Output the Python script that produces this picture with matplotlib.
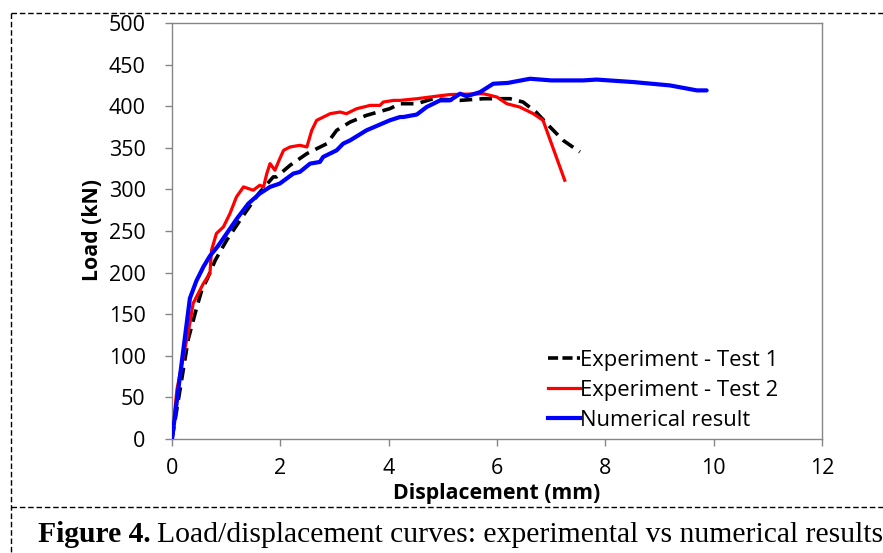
import matplotlib
matplotlib.use("Agg")
import matplotlib.pyplot as plt
from matplotlib.lines import Line2D

# ---- data ----
num_x = [0, 0.33, 0.45, 0.58, 0.70, 0.85, 1.01, 1.20, 1.41, 1.62, 1.81, 1.99, 2.24, 2.36,
         2.55, 2.73, 2.79, 3.04, 3.16, 3.29, 3.59, 4.02, 4.21, 4.27, 4.52, 4.70, 4.95,
         5.13, 5.32, 5.44, 5.69, 5.93, 6.20, 6.61, 7.00, 7.59, 7.84, 8.52, 9.19, 9.69, 9.87]
num_y = [0, 169, 190, 207, 220, 232, 247, 265, 283, 295, 303, 307, 319, 321,
         331, 333, 339, 347, 355, 359, 371, 383, 387, 387, 390, 399, 407,
         407, 415, 412, 417, 427, 428, 433, 431, 431, 432, 429, 425, 419, 419]

t2_x = [0, 0.09, 0.33, 0.39, 0.58, 0.70, 0.73, 0.82, 0.95, 1.07, 1.19, 1.32, 1.50, 1.62,
        1.69, 1.75, 1.81, 1.90, 1.99, 2.06, 2.18, 2.36, 2.49, 2.58, 2.67, 2.92, 3.10,
        3.22, 3.41, 3.66, 3.84, 3.90, 4.09, 4.21, 4.52, 4.88, 5.13, 5.75, 6.00, 6.18,
        6.42, 6.67, 6.85, 7.25]
t2_y = [0, 59, 139, 163, 187, 199, 227, 247, 255, 271, 291, 303, 299, 305,
        303, 319, 331, 323, 337, 347, 351, 353, 351, 371, 383, 391, 393,
        391, 397, 401, 401, 405, 407, 407, 409, 412, 414, 415, 411, 403,
        399, 391, 383, 311]

t1_x = [0, 0.15, 0.30, 0.46, 0.55, 0.64, 0.80, 1.01, 1.32, 1.60, 1.87, 1.93, 2.18, 2.49,
        2.86, 3.04, 3.29, 3.59, 4.02, 4.21, 4.52, 4.82, 5.32, 5.75, 6.24, 6.48, 6.72,
        6.98, 7.22, 7.53]
t1_y = [0, 60, 120, 159, 179, 191, 215, 239, 269, 295, 315, 315, 329, 343,
        355, 371, 381, 389, 397, 403, 403, 409, 407, 409, 409, 405, 393,
        375, 359, 345]

x_ticks = [0, 2, 4, 6, 8, 10, 12]
y_ticks = [0, 50, 100, 150, 200, 250, 300, 350, 400, 450, 500]
labels = ["Experiment - Test 1", "Experiment - Test 2", "Numerical result"]

W, H = 883, 553
fig = plt.figure(figsize=(W / 100, H / 100), dpi=100)
fig.patch.set_facecolor("white")

ax = fig.add_axes([172 / W, (H - 439) / H, 650 / W, 416 / H])
tick_font = "Open Sans"

ax.plot(num_x, num_y, color="#0000ff", lw=3.0, solid_capstyle="round", zorder=3)
ax.plot(t2_x, t2_y, color="#ff0000", lw=2.3, zorder=2)
ax.plot(t1_x, t1_y, color="black", lw=2.6, dashes=(3.5, 2.0), zorder=1)

ax.set_xlim(0, 12)
ax.set_ylim(0, 500)
ax.set_xticks(x_ticks)
ax.set_yticks(y_ticks)
ax.set_xticklabels([str(v) for v in x_ticks], fontsize=15.5, family=tick_font)
ax.set_yticklabels([str(v) for v in y_ticks], fontsize=15.5, family=tick_font)
for s in ax.spines.values():
    s.set_color("#868686")
    s.set_linewidth(1.0)
ax.tick_params(axis="both", direction="out", length=5, width=1.0, color="#868686",
               labelcolor="black")
ax.tick_params(axis="x", pad=9)
ax.tick_params(axis="y", pad=14)

fig.text(92 / W, 1 - 230 / H, "Load (kN)", rotation=90, ha="center", va="center",
         fontsize=15.3, fontweight="bold", family=tick_font)
fig.text(497 / W, 1 - 494 / H, "Displacement (mm)", ha="center", va="center",
         fontsize=15.3, fontweight="bold", family=tick_font)

handles = [Line2D([], [], color="black", lw=2.6, dashes=(2.8, 1.2)),
           Line2D([], [], color="#ff0000", lw=2.3),
           Line2D([], [], color="#0000ff", lw=3.0)]
leg = fig.legend(handles, labels, loc="upper left", bbox_to_anchor=(548 / W, 1 - 350 / H),
                 bbox_transform=fig.transFigure, frameon=False, handlelength=1.45,
                 handletextpad=0.0, labelspacing=0.40, borderpad=0.0, borderaxespad=0.0,
                 prop={"family": tick_font, "size": 15.8})

# dashed figure border
bl = dict(color="black", lw=1.0, ls=(0, (4, 2)), transform=fig.transFigure, clip_on=False)
fig.add_artist(Line2D([11 / W, 1.0], [1 - 13 / H, 1 - 13 / H], **bl))
fig.add_artist(Line2D([11 / W, 11 / W], [1 - 13 / H, 0], **bl))
fig.add_artist(Line2D([11 / W, 1.0], [1 - 507 / H, 1 - 507 / H], **bl))

# caption
t1 = fig.text(38 / W, 1 - 535 / H, "Figure 4.", ha="left", va="center",
              fontsize=21.3, fontweight="bold", family="Liberation Serif")
fig.canvas.draw()
bb = t1.get_window_extent()
fig.text(bb.x1 / W + 6 / W, 1 - 535 / H, "Load/displacement curves: experimental vs numerical results",
         ha="left", va="center", fontsize=21.3, family="Liberation Serif")

fig.savefig("out.png", dpi=100)
